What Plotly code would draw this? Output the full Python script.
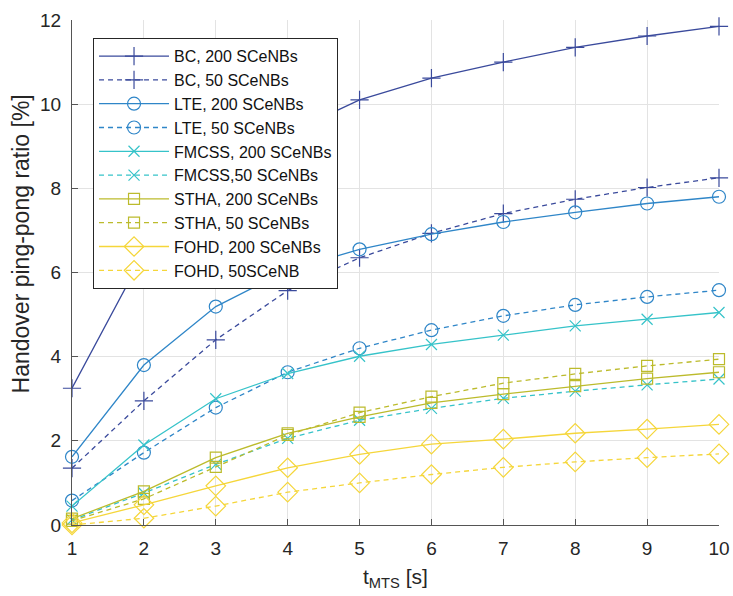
import plotly.graph_objects as go

t_mts = [1, 2, 3, 4, 5, 6, 7, 8, 9, 10]

bc_200 = [3.25, 6.45, 8.1, 9.3, 10.1, 10.62, 11.0, 11.35, 11.62, 11.85]
bc_50 = [1.35, 2.95, 4.4, 5.57, 6.35, 6.93, 7.4, 7.74, 8.02, 8.25]
lte_200 = [1.62, 3.8, 5.19, 6.05, 6.55, 6.91, 7.2, 7.43, 7.64, 7.8]
lte_50 = [0.58, 1.72, 2.79, 3.63, 4.2, 4.63, 4.97, 5.23, 5.42, 5.58]
fmcss_200 = [0.45, 1.9, 3.0, 3.6, 4.01, 4.29, 4.51, 4.73, 4.89, 5.05]
fmcss_50 = [0.12, 0.76, 1.44, 2.06, 2.49, 2.77, 3.01, 3.18, 3.33, 3.47]
stha_200 = [0.15, 0.8, 1.6, 2.18, 2.57, 2.9, 3.11, 3.3, 3.48, 3.63]
stha_50 = [0.1, 0.62, 1.38, 2.14, 2.67, 3.05, 3.37, 3.59, 3.78, 3.94]
fohd_200 = [0.05, 0.48, 0.93, 1.36, 1.68, 1.92, 2.04, 2.18, 2.28, 2.39]
fohd_50 = [0.0, 0.16, 0.45, 0.78, 1.0, 1.2, 1.37, 1.5, 1.6, 1.69]

names = ["BC, 200 SCeNBs", "BC, 50 SCeNBs", "LTE, 200 SCeNBs", "LTE, 50 SCeNBs",
         "FMCSS, 200 SCeNBs", "FMCSS,50 SCeNBs", "STHA, 200 SCeNBs", "STHA, 50 SCeNBs",
         "FOHD, 200 SCeNBs", "FOHD, 50SCeNB"]
series = [bc_200, bc_50, lte_200, lte_50, fmcss_200, fmcss_50, stha_200, stha_50, fohd_200, fohd_50]

x_title = "t<sub>MTS</sub> [s]"
y_title = "Handover ping-pong ratio [%]"

colors = ["#3a4a9c", "#3a4a9c", "#2f86c8", "#2f86c8", "#36c3c9", "#36c3c9",
          "#bcbb2c", "#bcbb2c", "#f5d63a", "#f5d63a"]
symbols = ["cross-thin", "cross-thin", "circle-open", "circle-open", "x-thin", "x-thin",
           "square-open", "square-open", "diamond-open", "diamond-open"]
sizes = [13, 13, 13, 13, 11, 11, 11, 11, 15, 15]
dashes = ["solid", "5px,4px"] * 5

fig = go.Figure()
for name, ys, c, s, sz, d in zip(names, series, colors, symbols, sizes, dashes):
    fig.add_trace(go.Scatter(
        x=t_mts, y=ys, name=name, mode="lines+markers",
        line=dict(color=c, width=1.3, dash=d),
        marker=dict(symbol=s, size=sz, color=c, line=dict(color=c, width=1.2)),
        cliponaxis=False,
    ))

fig.add_annotation(text=y_title, xref="paper", yref="paper", x=-0.0785, y=0.556,
                   xanchor="center", yanchor="middle", textangle=-90, showarrow=False,
                   font=dict(size=23, color="#262626"))
fig.add_annotation(text=x_title, xref="paper", yref="paper", x=0.5, y=-0.105,
                   xanchor="center", yanchor="middle", showarrow=False,
                   font=dict(size=21, color="#262626"))

fig.update_layout(
    width=733, height=596,
    margin=dict(l=72, r=14, t=20, b=71),
    paper_bgcolor="white", plot_bgcolor="white",
    font=dict(family="Liberation Sans, Arial, sans-serif", color="#262626", size=18),
    showlegend=True,
    legend=dict(
        x=0.0325, y=0.964, xanchor="left", yanchor="top",
        bgcolor="white", bordercolor="#262626", borderwidth=1,
        font=dict(size=16, color="#111111"),
        itemwidth=70, tracegroupgap=0,
    ),
    xaxis=dict(
        range=[1, 10], tickvals=t_mts, ticks="inside", ticklen=6, tickcolor="#555",
        showline=True, linecolor="#555", linewidth=1, mirror=False, automargin=False,
        showgrid=True, gridcolor="#e3e3e3", gridwidth=1, zeroline=False,
        tickfont=dict(size=19), ticklabelstandoff=6,
    ),
    yaxis=dict(
        range=[0, 12], tickvals=[0, 2, 4, 6, 8, 10, 12], ticks="inside", ticklen=6, tickcolor="#555",
        showline=True, linecolor="#555", linewidth=1, mirror=False, automargin=False,
        showgrid=True, gridcolor="#e3e3e3", gridwidth=1, zeroline=False,
        tickfont=dict(size=19), ticklabelstandoff=6,
    ),
)

fig.write_html("out.html")
